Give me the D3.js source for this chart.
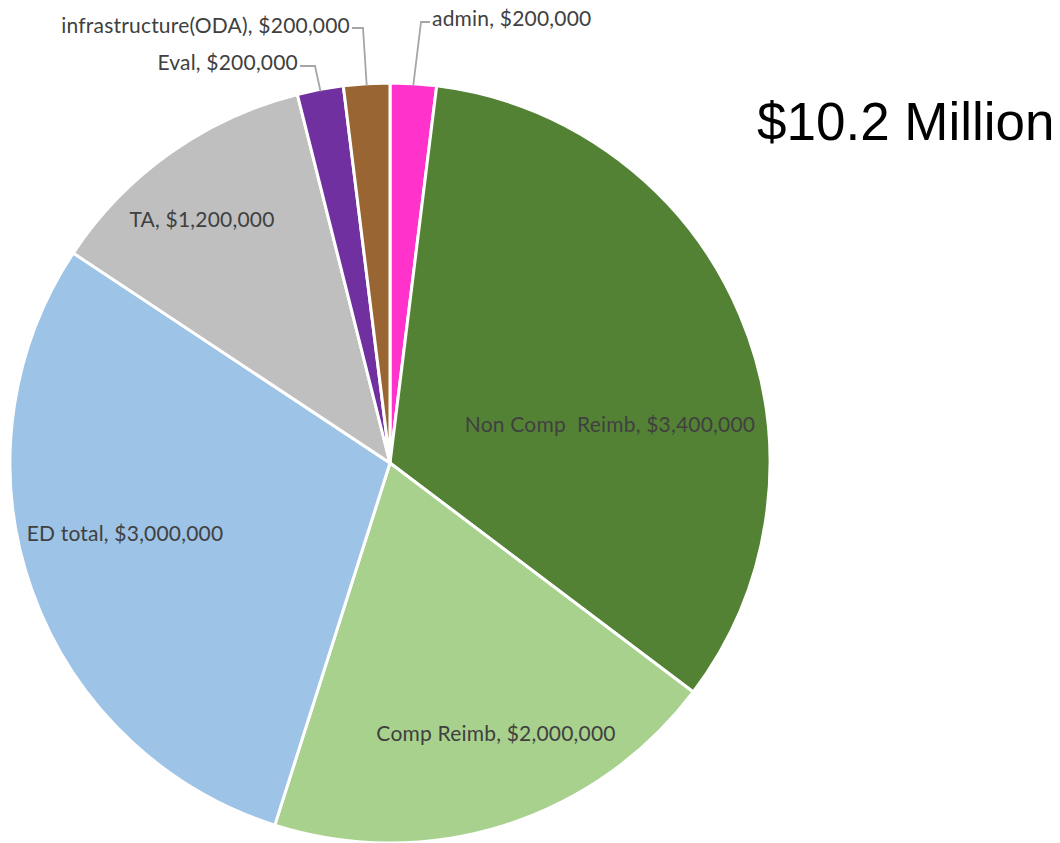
<!DOCTYPE html>
<html>
<head>
<meta charset="utf-8">
<script src="https://cdn.jsdelivr.net/npm/d3@7"></script>
<style>
  html, body { margin: 0; padding: 0; background: #ffffff; }
  svg { display: block; }
</style>
</head>
<body>
<svg id="chart" width="1060" height="843"></svg>
<script>
// ---- data ----
const categories = ["admin", "Non Comp  Reimb", "Comp Reimb", "ED total", "TA", "Eval", "infrastructure(ODA)"];
const values = [200000, 3400000, 2000000, 3000000, 1200000, 200000, 200000];
const colors = ["#ff33cc", "#548235", "#a9d18e", "#9dc3e6", "#bfbfbf", "#7030a0", "#996633"];
const titleText = "$10.2 Million";

// ---- layout (not data) ----
const W = 1060, H = 843;
const cx = 390, cy = 463, R = 380;
const labelLayout = [
  {dx: 42, dy: -437, anchor: "start", elbow: [31, -441], end: [40, -441]},
  {dx: 220, dy: -31, anchor: "middle"},
  {dx: 106, dy: 278, anchor: "middle"},
  {dx: -265, dy: 78, anchor: "middle"},
  {dx: -188, dy: -236, anchor: "middle"},
  {dx: -92, dy: -393, anchor: "end", elbow: [-75, -397], end: [-90, -397]},
  {dx: -40, dy: -430, anchor: "end", elbow: [-27, -435], end: [-38, -435]}
];

const fmt = d3.format("$,");
const data = categories.map((c, i) => ({name: c, value: values[i], color: colors[i], lay: labelLayout[i]}));

const svg = d3.select("#chart");
const g = svg.append("g").attr("transform", `translate(${cx},${cy})`);

const pie = d3.pie().value(d => d.value).sort(null);
const arc = d3.arc().innerRadius(0).outerRadius(R);
const arcs = pie(data);

g.selectAll("path.slice")
  .data(arcs)
  .join("path")
  .attr("class", "slice")
  .attr("d", arc)
  .attr("fill", d => d.data.color)
  .attr("stroke", "#ffffff")
  .attr("stroke-width", 3)
  .attr("stroke-linejoin", "round");

// leader lines for small slices
arcs.filter(d => d.data.lay.elbow).forEach(d => {
  const mid = (d.startAngle + d.endAngle) / 2;
  const sx = Math.sin(mid) * (R - 2), sy = -Math.cos(mid) * (R - 2);
  const e = d.data.lay.elbow, t = d.data.lay.end;
  g.append("path")
    .attr("d", d3.line()([[sx, sy], e, t]))
    .attr("fill", "none")
    .attr("stroke", "#a6a6a6")
    .attr("stroke-width", 1.8);
});

g.selectAll("text.lbl")
  .data(arcs)
  .join("text")
  .attr("class", "lbl")
  .attr("x", d => d.data.lay.dx)
  .attr("y", d => d.data.lay.dy)
  .attr("text-anchor", d => d.data.lay.anchor)
  .attr("font-family", "Lato, 'Open Sans', sans-serif")
  .attr("font-size", 21)
  .attr("letter-spacing", 0.2)
  .attr("fill", "#404040")
  .attr("xml:space", "preserve")
  .style("white-space", "pre")
  .text(d => `${d.data.name}, ${fmt(d.data.value)}`);

svg.append("text")
  .attr("x", 757)
  .attr("y", 140)
  .attr("font-family", "'Liberation Sans', Arial, sans-serif")
  .attr("font-size", 53)
  .attr("fill", "#000000")
  .text(titleText);
</script>
</body>
</html>
